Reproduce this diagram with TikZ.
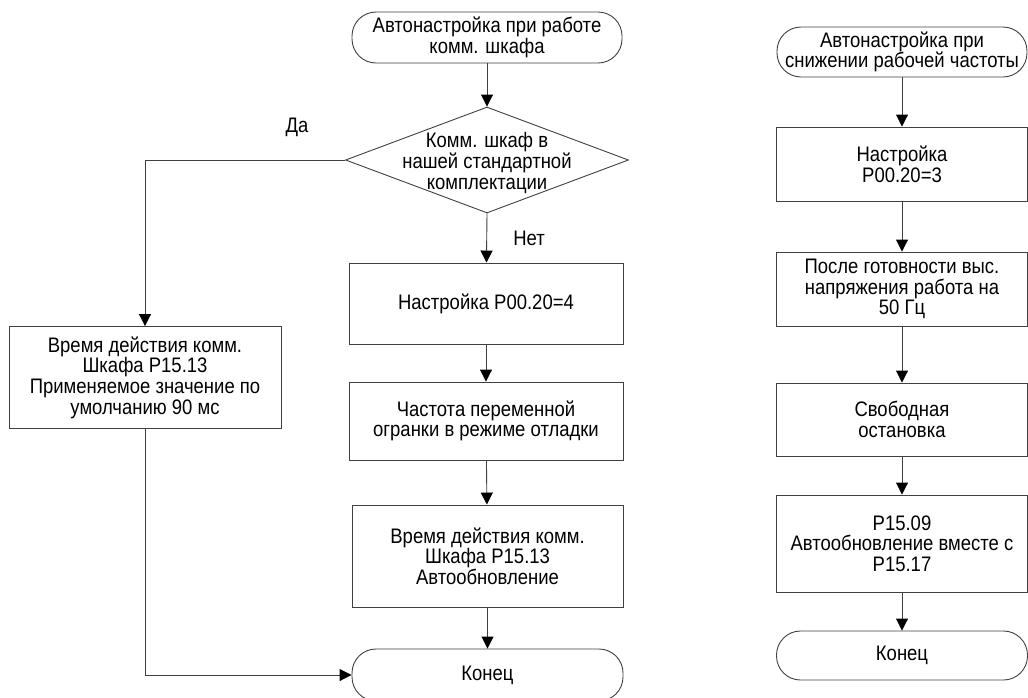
\documentclass[tikz,border=0pt]{standalone}
\usepackage{fontspec}
\setmainfont{Liberation Sans}[FakeStretch=0.88]
\usetikzlibrary{shapes.geometric,arrows.meta}
\definecolor{linec}{gray}{0.25}
\begin{document}
\begin{tikzpicture}[x=1pt,y=-1pt,
  every node/.style={font=\fontsize{21}{20.7}\selectfont},
  box/.style={draw=linec, line width=0.9pt, rectangle, align=center, inner sep=0pt},
  term/.style={box, rounded corners=24pt},
  dec/.style={draw=linec, line width=0.9pt, diamond, inner sep=0pt},
  arr/.style={draw=linec, line width=0.9pt, -{Triangle[length=12pt,width=12pt,color=black]}},
  lbl/.style={inner sep=0pt}]
\useasboundingbox (0,0) rectangle (1028,697);
% left flow
\node[term, minimum width=270pt, minimum height=51pt] (s1) at (487,37.5) {Автонастройка при работе\\комм. шкафа};
\node[dec, minimum width=283pt, minimum height=106pt] (d) at (487,160) {};
\node[align=center, inner sep=0pt] (dt) at (487,163) {Комм. шкаф в\\нашей стандартной\\комплектации};
\node[lbl] (da) at (297,127) {Да};
\node[lbl] (net) at (529,238) {Нет};
\node[box, minimum width=272pt, minimum height=102pt] (lb) at (145,377.5) {Время действия комм.\\Шкафа P15.13\\Применяемое значение по\\умолчанию 90 мс};
\node[box, minimum width=274pt, minimum height=81pt] (c1) at (486,303.5) {Настройка P00.20=4};
\node[box, minimum width=274pt, minimum height=78pt] (c2) at (486,421) {Частота переменной\\огранки в режиме отладки};
\node[box, minimum width=271pt, minimum height=102pt] (c3) at (487.5,556) {Время действия комм.\\Шкафа P15.13\\Автообновление};
\node[term, minimum width=271pt, minimum height=52pt] (e1) at (487.5,675) {Конец};
\draw[arr] (s1) -- (d.north);
\draw[arr] (d.south) -- (c1);
\draw[arr] (c1) -- (c2);
\draw[arr] (c2) -- (c3);
\draw[arr] (c3) -- (e1);
\draw[arr] (d.west) -| (lb.north);
\draw[arr] (lb.south) |- (e1.west);
% right flow
\node[term, minimum width=250pt, minimum height=50pt] (s2) at (902,52) {Автонастройка при\\снижении рабочей частоты};
\node[box, minimum width=251pt, minimum height=74pt] (b1) at (902,164) {Настройка\\P00.20=3};
\node[box, minimum width=251pt, minimum height=74pt] (b2) at (902,289) {После готовности выс.\\напряжения работа на\\50 Гц};
\node[box, minimum width=251pt, minimum height=73pt] (b3) at (902,419.5) {Свободная\\остановка};
\node[box, minimum width=251pt, minimum height=97pt] (b4) at (902,543.5) {P15.09\\Автообновление вместе с\\P15.17};
\node[term, minimum width=251pt, minimum height=49pt] (e2) at (902,655.5) {Конец};
\draw[arr] (s2) -- (b1);
\draw[arr] (b1) -- (b2);
\draw[arr] (b2) -- (b3);
\draw[arr] (b3) -- (b4);
\draw[arr] (b4) -- (e2);
\end{tikzpicture}
\end{document}
